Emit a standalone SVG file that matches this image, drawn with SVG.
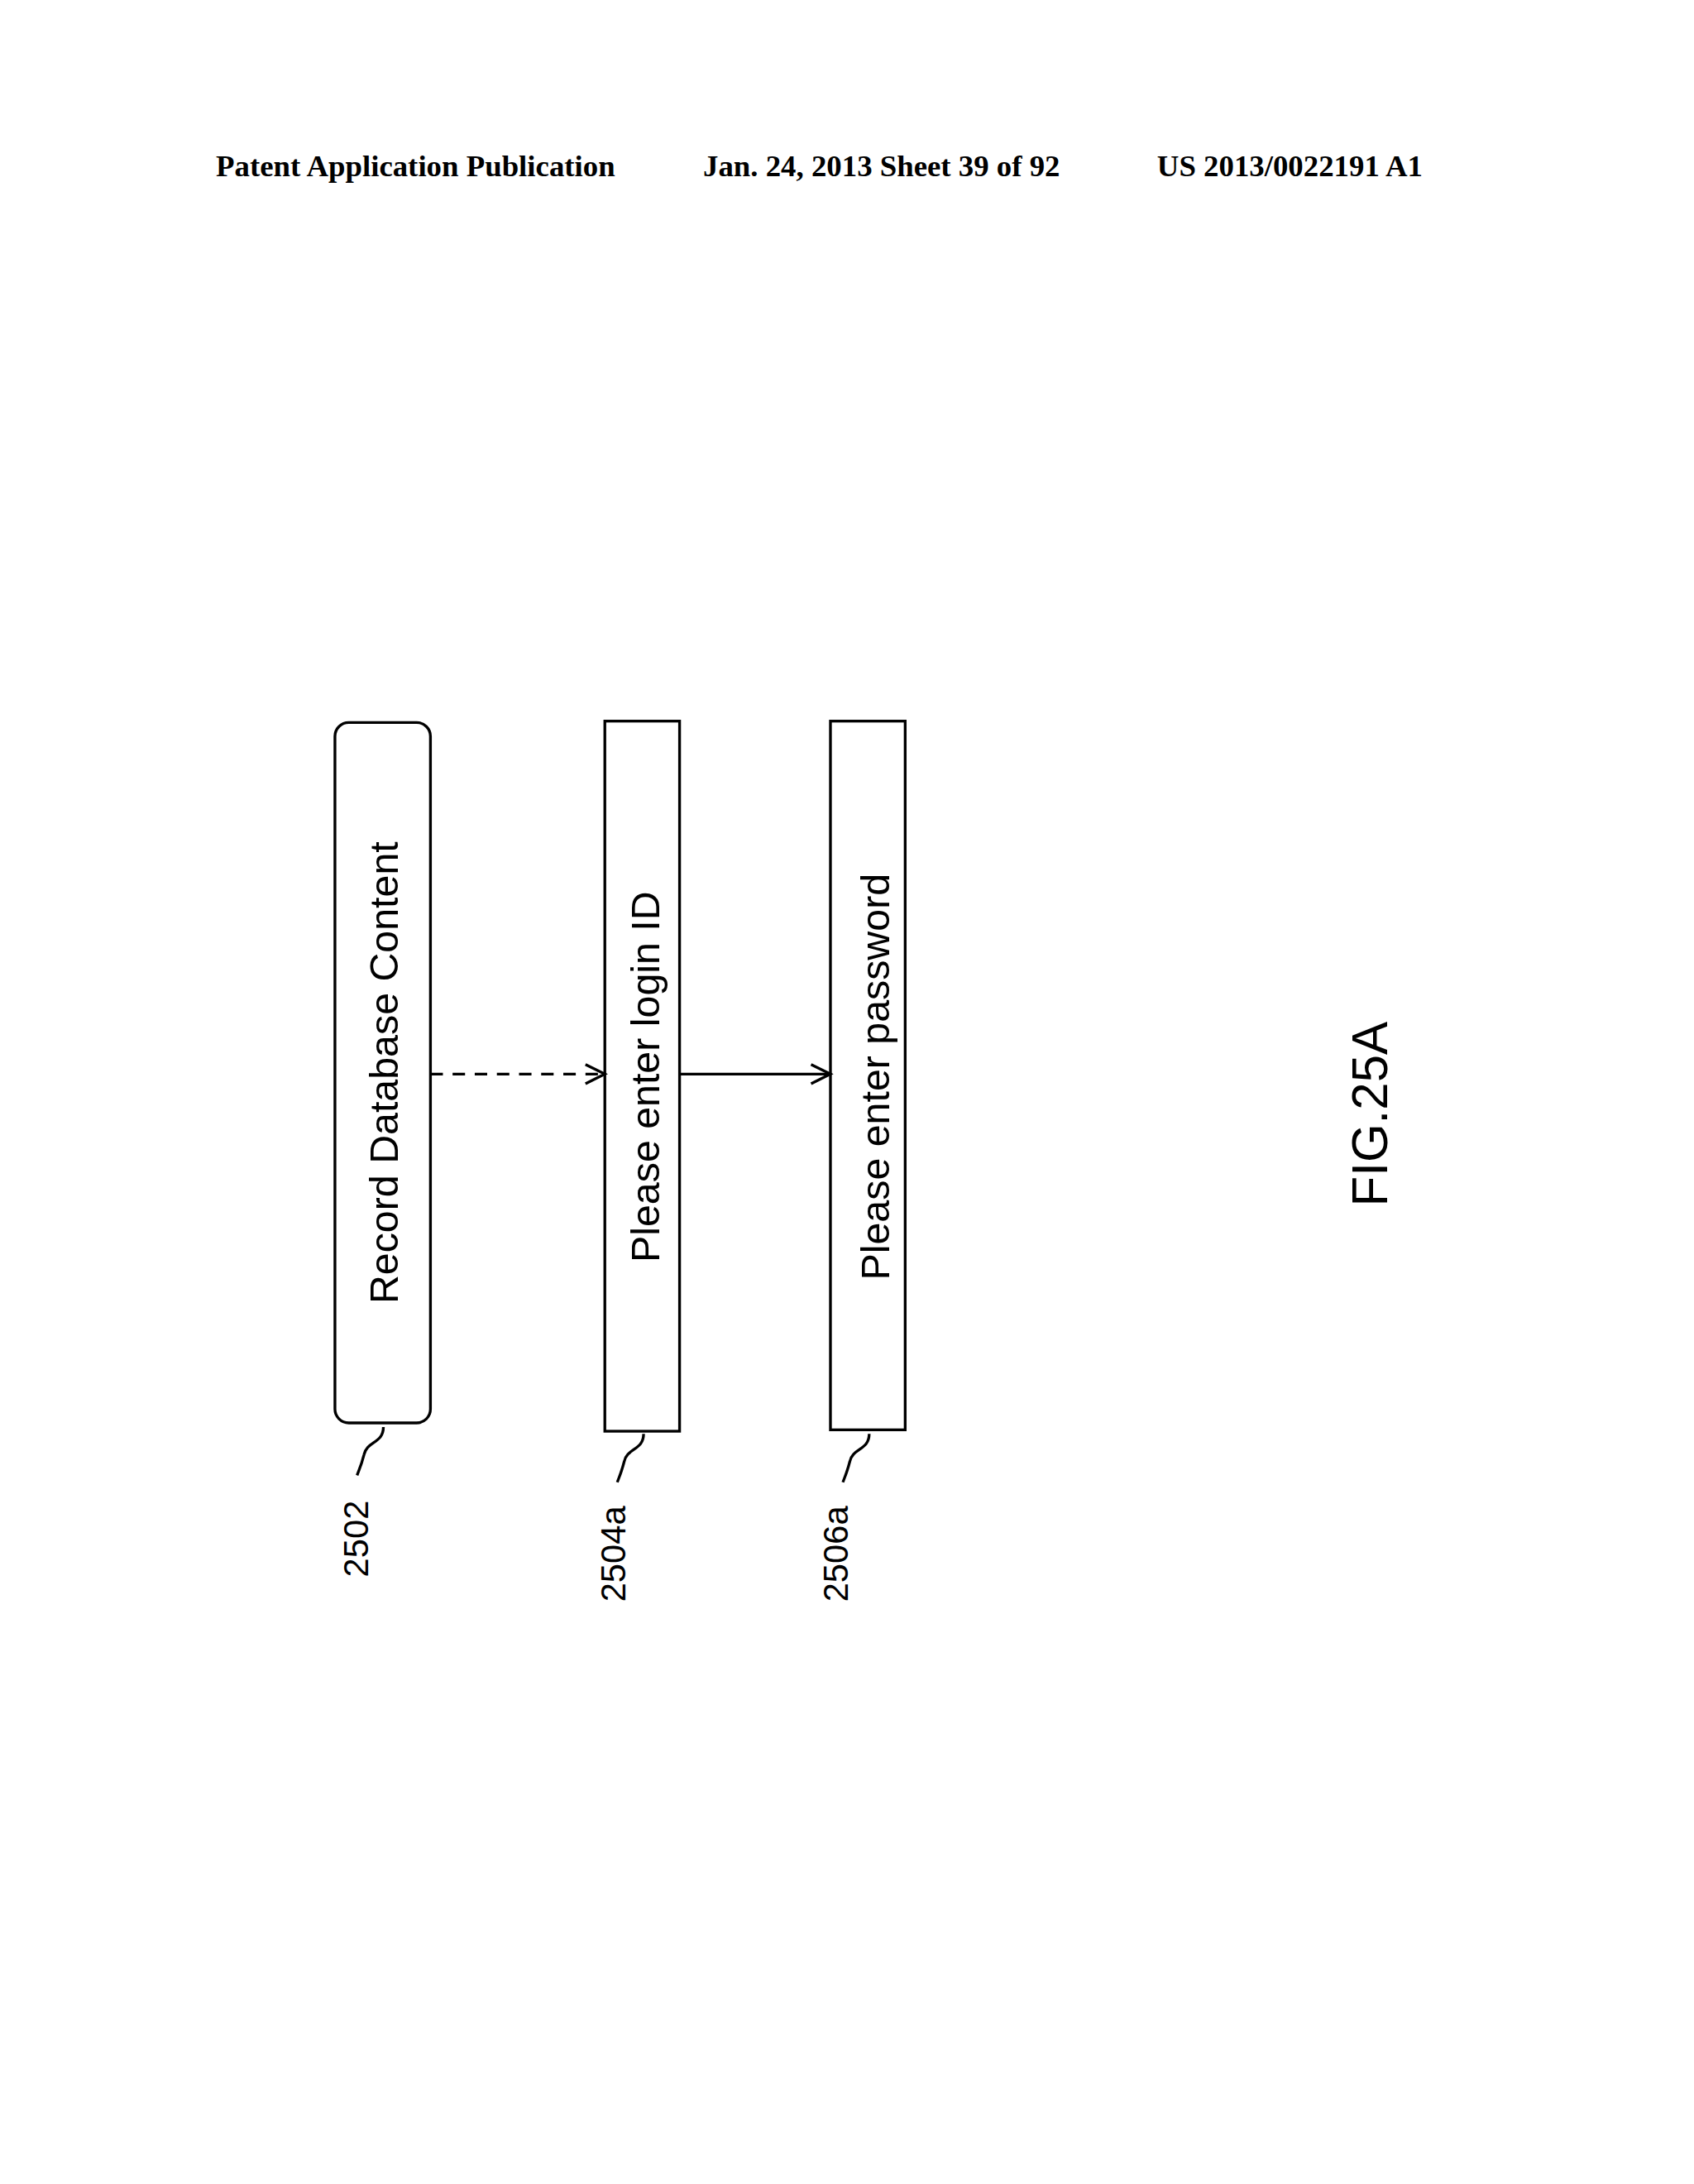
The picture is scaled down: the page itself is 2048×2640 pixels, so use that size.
<svg xmlns="http://www.w3.org/2000/svg" width="2048" height="2640" viewBox="0 0 2048 2640">
<style>
.hdr{font-family:"Liberation Serif",serif;font-weight:bold;font-size:22px}
.t{font-family:"Liberation Sans",Arial,sans-serif;font-size:29px;text-anchor:middle;dominant-baseline:central}
.lb{font-family:"Liberation Sans",Arial,sans-serif;font-size:25px;text-anchor:middle;dominant-baseline:central}
.b{fill:#fff;stroke:#000;stroke-width:2}
.c{fill:none;stroke:#000;stroke-width:2}
</style>
<defs><marker id="a" markerWidth="20" markerHeight="20" refX="17" refY="10" orient="auto" markerUnits="userSpaceOnUse"><path d="M3,3 L17,10 L3,17" fill="none" stroke="#000" stroke-width="2"/></marker></defs>
<rect width="2048" height="2640" fill="#fff"/>
<g transform="scale(1.6733,1.6667)">
<g id="header">
<text class="hdr" x="156" y="128">Patent Application Publication</text>
<text class="hdr" x="508" y="128">Jan. 24, 2013  Sheet 39 of 92</text>
<text class="hdr" x="836" y="128">US 2013/0022191 A1</text>
</g>
<g id="n2502">
<rect class="b" x="242" y="524" width="69" height="508" rx="10"/>
<text class="t" transform="translate(277,778) rotate(-90)">Record Database Content</text>
<path class="c" d="M277,1035 c0,12 -12,10 -14,20 c-2,8 -4,12 -5,15"/>
<text class="lb" transform="translate(257,1116) rotate(-90)">2502</text>
</g>
<g id="n2504a">
<rect class="b" x="437" y="523" width="54" height="515"/>
<text class="t" transform="translate(466,781) rotate(-90)">Please enter login ID</text>
<path class="c" d="M465,1040 c0,12 -12,10 -14,20 c-2,8 -4,12 -5,15"/>
<text class="lb" transform="translate(443,1127) rotate(-90)">2504a</text>
</g>
<g id="n2506a">
<rect class="b" x="600" y="523" width="54" height="514"/>
<text class="t" transform="translate(632,781) rotate(-90)">Please enter password</text>
<path class="c" d="M628,1040 c0,12 -12,10 -14,20 c-2,8 -4,12 -5,15"/>
<text class="lb" transform="translate(604,1127) rotate(-90)">2506a</text>
</g>
<g id="connectors">
<line class="c" x1="311" y1="779" x2="437" y2="779" stroke-dasharray="9,7" marker-end="url(#a)"/>
<line class="c" x1="491" y1="779" x2="600" y2="779" marker-end="url(#a)"/>
</g>
<text class="t" style="font-size:36px" transform="translate(990,808) rotate(-90)">FIG.25A</text>
</g>
</svg>
